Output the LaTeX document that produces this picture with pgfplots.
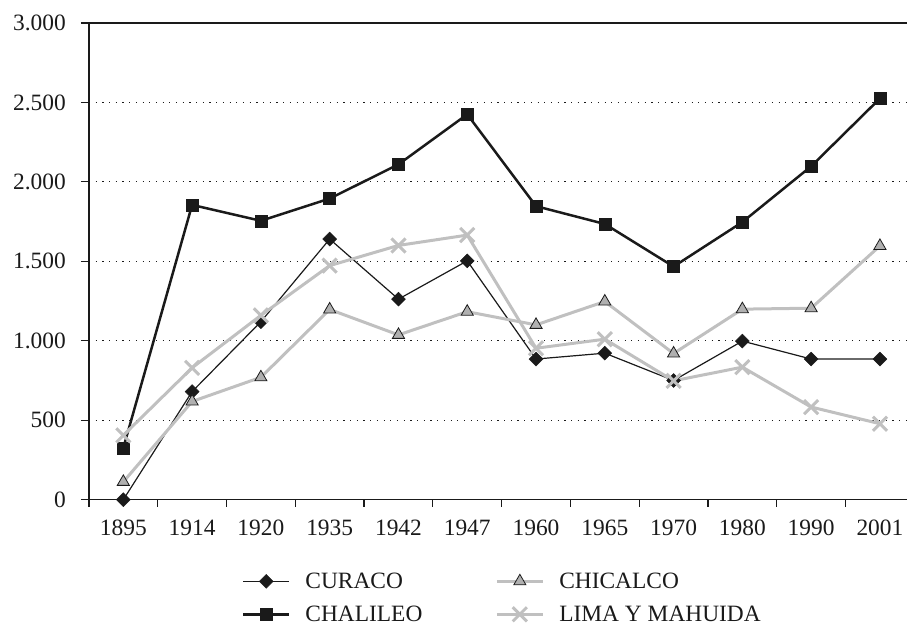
\documentclass[border=0pt]{standalone}
\usepackage{fontspec}
\setmainfont{Liberation Serif}
\usepackage{pgfplots}
\pgfplotsset{compat=1.18}
\definecolor{dk}{HTML}{1A1A1A}
\definecolor{lg}{HTML}{C0C0C0}
\definecolor{tg}{HTML}{B0B0B0}
\begin{document}
\begin{tikzpicture}
\begin{axis}[
 scale only axis, width=818bp, height=477bp,
 xmin=-0.5, xmax=11.385, ymin=0, ymax=3000,
 axis x line*=bottom, axis y line*=left,
 axis line style={line width=1.2bp, dk},
 /pgf/number format/assume math mode=true,
 xtick={0,...,11},
 xticklabels={1895,1914,1920,1935,1942,1947,1960,1965,1970,1980,1990,2001},
 minor xtick={-0.5,0.5,...,10.5},
 ytick={0,500,...,3000},
 yticklabels={0,500,1.000,1.500,2.000,2.500,3.000},
 tick align=outside,
 major tick length=8bp, minor tick length=7bp,
 every tick/.style={line width=1.2bp, dk},
 every major x tick/.style={draw=none},
 ymajorgrids,
 grid style={dk, line width=1.2bp, dash pattern=on 1.2bp off 5.5bp},
 tick label style={font=\fontsize{23.5}{28}\selectfont, inner sep=0pt, text=dk},
 xticklabel style={yshift=-12bp},
 yticklabel style={xshift=-15bp},
 legend columns=2,
 legend cell align=left,
 legend style={draw=none, fill=none, at={(axis description cs:0.187,-0.153)}, anchor=north west,
   font=\fontsize{23.5}{28}\selectfont, text=dk, inner sep=0pt, row sep=16bp,
   nodes={inner sep=0pt}, column sep=15bp,
   /tikz/every even column/.append style={column sep=73bp}},
 legend image code/.code={\draw[mark repeat=2,mark phase=2] plot coordinates {(0bp,0bp) (23bp,0bp) (46bp,0bp)};},
]
\addplot[dk, line width=1.2bp, mark=square*, mark size=4.9bp, mark options={rotate=45, fill=dk, solid, line width=0.5bp}] coordinates {
(0,0) (1,680) (2,1120) (3,1640) (4,1262) (5,1503) (6,885) (7,922) (8,750) (9,998) (10,885) (11,885)};
\addlegendentry{CURACO}
\addplot[lg, line width=3bp, mark=triangle*, mark size=7bp, mark options={fill=tg, draw=dk, line width=0.8bp}] coordinates {
(0,112) (1,618) (2,770) (3,1197) (4,1037) (5,1183) (6,1100) (7,1247) (8,920) (9,1199) (10,1205) (11,1597)};
\addlegendentry{CHICALCO}
\addplot[dk, line width=2.5bp, mark=square*, mark size=6bp, mark options={fill=dk, line width=0.5bp}] coordinates {
(0,325) (1,1855) (2,1755) (3,1895) (4,2110) (5,2425) (6,1847) (7,1735) (8,1467) (9,1747) (10,2098) (11,2525)};
\addlegendentry{CHALILEO}
\addplot[lg, line width=3bp, mark=x, mark size=10bp, mark options={lg, line width=3bp}] coordinates {
(0,405) (1,830) (2,1160) (3,1473) (4,1600) (5,1665) (6,953) (7,1010) (8,748) (9,834) (10,583) (11,478)};
\addlegendentry{LIMA Y MAHUIDA}
\draw[dk, line width=1.2bp] (rel axis cs:0,1) -- (rel axis cs:1,1);
\coordinate (bl) at (rel axis cs:0,0);
\coordinate (tr) at (rel axis cs:1,1);
\end{axis}
\path ([shift={(-89bp,-126bp)}]bl) rectangle ([shift={(0bp,23bp)}]tr);
\end{tikzpicture}
\end{document}
